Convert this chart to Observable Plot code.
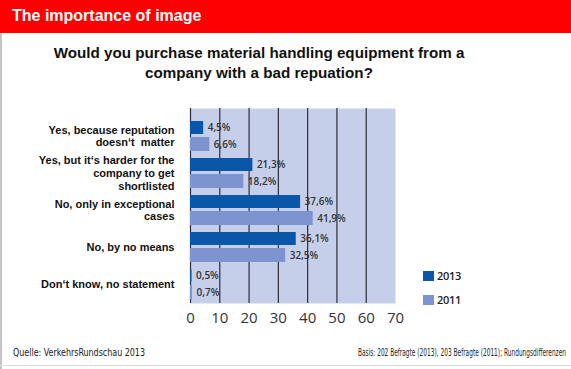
<!DOCTYPE html>
<html>
<head>
<meta charset="utf-8">
<script src="https://cdn.jsdelivr.net/npm/d3@7"></script>
<script src="https://cdn.jsdelivr.net/npm/@observablehq/plot@0.6"></script>
<style>
  html, body { margin: 0; padding: 0; background: #fff; }
  #page { position: relative; width: 571px; height: 369px; overflow: hidden; background: #fff; font-family: "Liberation Sans", Arial, sans-serif; }
  #header { position: absolute; left: 0; top: 0; width: 571px; height: 33px; background: #ff0000; }
  #header span { position: absolute; left: 12px; top: 7px; color: #fff; font-weight: bold; font-size: 16px; }
  #leftborder { position: absolute; left: 0; top: 33px; width: 2px; height: 336px; background: #c4c4c4; }
  #bottomline { position: absolute; left: 0; top: 365px; width: 571px; height: 1px; background: #dedede; }
  #question { position: absolute; left: 0; top: 43px; width: 518px; text-align: center; font-weight: bold; font-size: 15.2px; line-height: 20px; color: #111; }
  #chart { position: absolute; left: 0; top: 100px; }
  .legend { position: absolute; left: 423px; font-family: "Open Sans", sans-serif; font-size: 11px; color: #222; font-weight: 600; }
  .legend i { position: absolute; left: 0; top: 0; width: 11px; height: 10px; }
  .legend span { position: absolute; left: 14px; top: -3px; letter-spacing: -0.3px; }
  .foot { position: absolute; top: 347px; font-family: "Liberation Sans Narrow", "DejaVu Sans Condensed", sans-serif; font-size: 10px; color: #222; white-space: nowrap; transform-origin: left center; }
</style>
</head>
<body>
<div id="page">
  <div id="header"><span>The importance of image</span></div>
  <div id="leftborder"></div>
  <div id="question">Would you purchase material handling equipment from a<br>company with a bad repuation?</div>
  <div id="chart"></div>
  <div class="legend" style="top:271px"><i style="background:#0a56a8"></i><span>2013</span></div>
  <div class="legend" style="top:295px"><i style="background:#7d94d0"></i><span>2011</span></div>
  <div class="foot" id="footL" style="left:13px">Quelle: VerkehrsRundschau 2013</div>
  <div class="foot" id="footR" style="left:358px">Basis: 202 Befragte (2013), 203 Befragte (2011); Rundungsdifferenzen</div>
  <div id="bottomline"></div>
</div>
<script>
const categories = [
  "Yes, because reputation\ndoesn\u2018t  matter",
  "Yes, but it\u2018s harder for the\ncompany to get\nshortlisted",
  "No, only in exceptional\ncases",
  "No, by no means",
  "Don\u2018t know, no statement"
];
const values2013 = [4.5, 21.3, 37.6, 36.1, 0.5];
const values2011 = [6.6, 18.2, 41.9, 32.5, 0.7];
const xTicks = [0, 10, 20, 30, 40, 50, 60, 70];
const gridTicks = [0, 10, 20, 30, 40, 50, 60];

const c2013 = "#0a56a8", c2011 = "#7d94d0", bg = "#c6cfea";
const fmt = v => v.toFixed(1).replace(".", ",") + "%";

const d13 = categories.map((c, i) => ({cat: c, v: values2013[i]}));
const d11 = categories.map((c, i) => ({cat: c, v: values2011[i]}));

const chart = Plot.plot({
  width: 571,
  height: 230,
  marginLeft: 190,
  marginRight: 176,
  marginTop: 8,
  marginBottom: 27,
  style: {fontFamily: "'Open Sans', sans-serif", background: "transparent"},
  x: {domain: [0, 70], axis: null, label: null},
  y: {domain: categories, range: [15, 204], padding: 0, axis: null, label: null},
  marks: [
    Plot.frame({fill: bg, stroke: null}),
    Plot.text(d13, {x: "v", y: "cat", text: d => fmt(d.v), dx: 4, dy: -8, textAnchor: "start", fontSize: 10, fill: "#333", fontWeight: 600}),
    Plot.text(d11, {x: "v", y: "cat", text: d => fmt(d.v), dx: 4, dy: 8.5, textAnchor: "start", fontSize: 10, fill: "#333", fontWeight: 600}),
    Plot.ruleX(gridTicks, {stroke: "#2e2e3a", strokeWidth: 1.2}),
    Plot.barX(d13, {x: "v", y: "cat", fill: c2013, insetTop: 4, insetBottom: 20}),
    Plot.barX(d11, {x: "v", y: "cat", fill: c2011, insetTop: 20, insetBottom: 3}),
    Plot.axisX(xTicks, {tickSize: 0, tickPadding: 9, fontSize: 15, fill: "#333", tickFormat: d => d, label: null}),
    Plot.axisY({tickSize: 0, tickPadding: 16, fontSize: 11, fontWeight: "bold", fill: "#111", fontFamily: "'Liberation Sans', Arial, sans-serif", lineHeight: 1.15, label: null})
  ]
});
document.getElementById("chart").appendChild(chart);

// fit footer widths to reference
function fit(id, target) {
  const el = document.getElementById(id);
  const w = el.getBoundingClientRect().width;
  el.style.transform = `scaleX(${target / w})`;
}
fit("footL", 132);
fit("footR", 208);
</script>
</body>
</html>
